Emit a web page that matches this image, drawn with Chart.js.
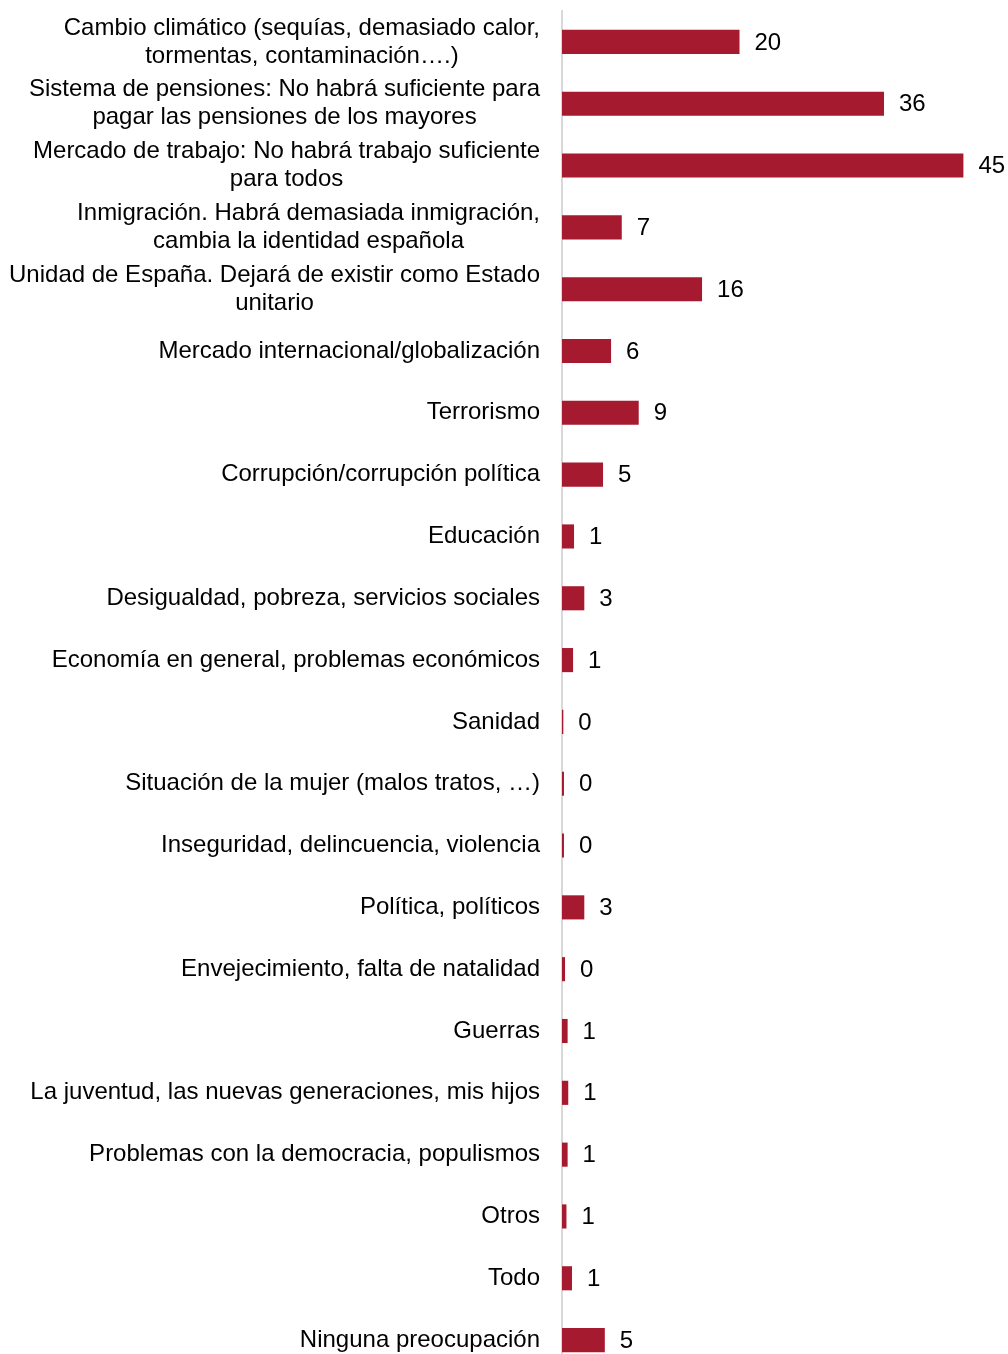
<!DOCTYPE html>
<html>
<head>
<meta charset="utf-8">
<script src="https://cdn.jsdelivr.net/npm/chart.js@4/dist/chart.umd.min.js"></script>
<style>
  html, body { margin: 0; padding: 0; background: #fff; overflow: hidden; }
  #wrap { position: relative; width: 1008px; height: 1371px; }
</style>
</head>
<body>
<div id="wrap"><canvas id="c"></canvas></div>
<script>
const categories = [
  ["Cambio climático (sequías, demasiado calor,", "tormentas, contaminación….)"],
  ["Sistema de pensiones: No habrá suficiente para", "pagar las pensiones de los mayores"],
  ["Mercado de trabajo: No habrá trabajo suficiente", "para todos"],
  ["Inmigración. Habrá demasiada inmigración,", "cambia la identidad española"],
  ["Unidad de España. Dejará de existir como Estado", "unitario"],
  "Mercado internacional/globalización",
  "Terrorismo",
  "Corrupción/corrupción política",
  "Educación",
  "Desigualdad, pobreza, servicios sociales",
  "Economía en general, problemas económicos",
  "Sanidad",
  "Situación de la mujer (malos tratos, …)",
  "Inseguridad, delincuencia, violencia",
  "Política, políticos",
  "Envejecimiento, falta de natalidad",
  "Guerras",
  "La juventud, las nuevas generaciones, mis hijos",
  "Problemas con la democracia, populismos",
  "Otros",
  "Todo",
  "Ninguna preocupación"
];
const values = [19.9, 36.1, 45.0, 6.7, 15.7, 5.5, 8.6, 4.6, 1.35, 2.5, 1.24, 0.15, 0.22, 0.22, 2.5, 0.34, 0.63, 0.7, 0.63, 0.5, 1.12, 4.8];
const valueLabels = [20, 36, 45, 7, 16, 6, 9, 5, 1, 3, 1, 0, 0, 0, 3, 0, 1, 1, 1, 1, 1, 5];

const FONT = "'Liberation Sans', Arial, sans-serif";
const FONT_SIZE = 24;
const LINE_H = 28;
const LABEL_GAP = 22;

const labelPlugin = {
  id: 'labels',
  afterDatasetsDraw(chart) {
    const ctx = chart.ctx;
    const meta = chart.getDatasetMeta(0);
    const yScale = chart.scales.y;
    ctx.save();
    ctx.font = FONT_SIZE + 'px ' + FONT;
    ctx.fillStyle = '#000';
    ctx.textBaseline = 'middle';
    // value labels
    ctx.textAlign = 'left';
    meta.data.forEach((bar, i) => {
      ctx.fillText(String(valueLabels[i]), bar.x + 15, bar.y + 1);
    });
    // category labels (multi-line centred on each other, right edge at axis - gap)
    const rightX = yScale.right - LABEL_GAP;
    categories.forEach((lab, i) => {
      const lines = Array.isArray(lab) ? lab : [lab];
      const cy = yScale.getPixelForTick(i);
      const maxW = Math.max(...lines.map(l => ctx.measureText(l).width));
      const cx = rightX - maxW / 2;
      ctx.textAlign = 'center';
      lines.forEach((l, k) => {
        const y = cy + (k - (lines.length - 1) / 2) * LINE_H;
        ctx.fillText(l, cx, y);
      });
    });
    ctx.restore();
  }
};

new Chart(document.getElementById('c'), {
  type: 'bar',
  data: {
    labels: categories,
    datasets: [{
      data: values,
      backgroundColor: '#A51A2F',
      borderWidth: 0,
      barPercentage: 0.39,
      categoryPercentage: 1.0
    }]
  },
  options: {
    indexAxis: 'y',
    responsive: true,
    maintainAspectRatio: false,
    animation: false,
    layout: { padding: { top: 11, right: 0, bottom: 0, left: 0 } },
    plugins: { legend: { display: false }, tooltip: { enabled: false } },
    scales: {
      x: {
        display: false,
        min: 0,
        max: 50
      },
      y: {
        afterFit(scale) {
          scale.width = 562;
          scale.paddingTop = 0;
          scale.paddingBottom = 0;
        },
        grid: { display: true, drawOnChartArea: false, drawTicks: false },
        border: { display: true, color: '#D9D9D9', width: 2 },
        ticks: {
          display: false,
          autoSkip: false
        }
      }
    }
  },
  plugins: [labelPlugin]
});
</script>
</body>
</html>
